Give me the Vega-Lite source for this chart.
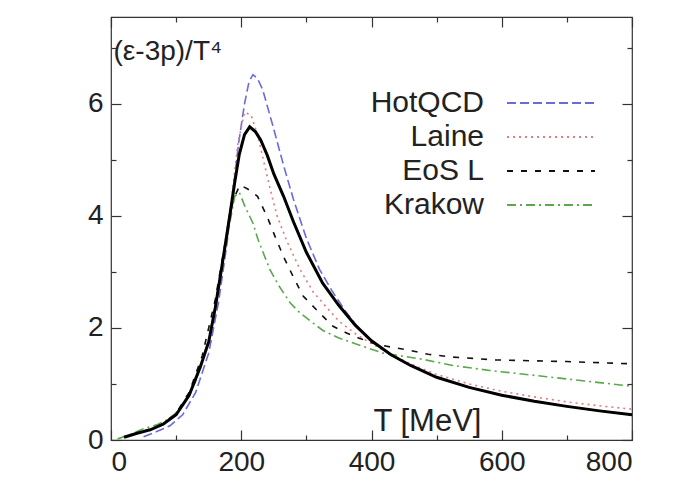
{
  "$schema": "https://vega.github.io/schema/vega-lite/v6.json",
  "width": 521,
  "height": 423,
  "autosize": {"type": "none"},
  "padding": {"left": 111, "top": 17, "right": 58, "bottom": 48},
  "background": "white",
  "config": {
    "view": {"stroke": "#333333", "strokeWidth": 1.2},
    "font": "Liberation Sans",
    "axis": {"grid": false, "domain": false, "tickColor": "#333333", "tickWidth": 1.2, "labelFont": "Liberation Sans", "labelColor": "#222222", "titleFont": "Liberation Sans", "titleColor": "#222222", "titleFontWeight": "normal"},
    "legend": {"orient": "none", "legendX": 381, "legendY": 71, "symbolType": "M-4,0H4", "symbolSize": 484, "symbolOffset": 44, "symbolStrokeWidth": 2, "labelAlign": "right", "labelOffset": -82, "labelFontSize": 30, "labelFont": "Liberation Sans", "labelColor": "#222222", "rowPadding": 4, "padding": 0}
  },
  "datasets": {
    "main": [
      {"T": 20, "v": 0.05}, {"T": 40, "v": 0.12}, {"T": 60, "v": 0.18}, {"T": 80, "v": 0.28},
      {"T": 100, "v": 0.45}, {"T": 120, "v": 0.8}, {"T": 137, "v": 1.3}, {"T": 150, "v": 1.75},
      {"T": 160, "v": 2.35}, {"T": 167, "v": 2.86}, {"T": 175, "v": 3.45}, {"T": 183, "v": 4.05},
      {"T": 190, "v": 4.6}, {"T": 197, "v": 5.1}, {"T": 205, "v": 5.45}, {"T": 213, "v": 5.59},
      {"T": 222, "v": 5.5}, {"T": 230, "v": 5.35}, {"T": 240, "v": 5.08}, {"T": 250, "v": 4.75},
      {"T": 265, "v": 4.35}, {"T": 280, "v": 3.9}, {"T": 300, "v": 3.35}, {"T": 325, "v": 2.8},
      {"T": 350, "v": 2.4}, {"T": 375, "v": 2.05}, {"T": 400, "v": 1.77}, {"T": 430, "v": 1.52},
      {"T": 460, "v": 1.33}, {"T": 500, "v": 1.12}, {"T": 550, "v": 0.94}, {"T": 600, "v": 0.8},
      {"T": 650, "v": 0.69}, {"T": 700, "v": 0.6}, {"T": 750, "v": 0.52}, {"T": 800, "v": 0.45}
    ],
    "models": [
      {"series": "HotQCD", "T": 50, "v": 0.06}, {"series": "HotQCD", "T": 70, "v": 0.15},
      {"series": "HotQCD", "T": 90, "v": 0.25}, {"series": "HotQCD", "T": 110, "v": 0.45},
      {"series": "HotQCD", "T": 130, "v": 0.85}, {"series": "HotQCD", "T": 150, "v": 1.55},
      {"series": "HotQCD", "T": 165, "v": 2.45}, {"series": "HotQCD", "T": 178, "v": 3.5},
      {"series": "HotQCD", "T": 188, "v": 4.5}, {"series": "HotQCD", "T": 196, "v": 5.3},
      {"series": "HotQCD", "T": 205, "v": 6.0}, {"series": "HotQCD", "T": 212, "v": 6.4},
      {"series": "HotQCD", "T": 218, "v": 6.52}, {"series": "HotQCD", "T": 225, "v": 6.45},
      {"series": "HotQCD", "T": 233, "v": 6.25}, {"series": "HotQCD", "T": 249, "v": 5.59},
      {"series": "HotQCD", "T": 265, "v": 4.9}, {"series": "HotQCD", "T": 280, "v": 4.3},
      {"series": "HotQCD", "T": 300, "v": 3.6}, {"series": "HotQCD", "T": 320, "v": 3.05},
      {"series": "HotQCD", "T": 340, "v": 2.65}, {"series": "HotQCD", "T": 360, "v": 2.3},
      {"series": "HotQCD", "T": 380, "v": 2.0}, {"series": "HotQCD", "T": 400, "v": 1.77},
      {"series": "HotQCD", "T": 430, "v": 1.52}, {"series": "HotQCD", "T": 460, "v": 1.33},
      {"series": "HotQCD", "T": 500, "v": 1.12}, {"series": "HotQCD", "T": 550, "v": 0.94},
      {"series": "HotQCD", "T": 600, "v": 0.8}, {"series": "HotQCD", "T": 650, "v": 0.69},
      {"series": "HotQCD", "T": 700, "v": 0.6}, {"series": "HotQCD", "T": 750, "v": 0.52},
      {"series": "HotQCD", "T": 800, "v": 0.45},
      {"series": "Laine", "T": 160, "v": 2.4}, {"series": "Laine", "T": 175, "v": 3.5},
      {"series": "Laine", "T": 185, "v": 4.3}, {"series": "Laine", "T": 195, "v": 5.3},
      {"series": "Laine", "T": 205, "v": 5.85}, {"series": "Laine", "T": 215, "v": 5.8},
      {"series": "Laine", "T": 225, "v": 5.45}, {"series": "Laine", "T": 235, "v": 4.95},
      {"series": "Laine", "T": 245, "v": 4.45}, {"series": "Laine", "T": 255, "v": 4.0},
      {"series": "Laine", "T": 270, "v": 3.55}, {"series": "Laine", "T": 290, "v": 3.05},
      {"series": "Laine", "T": 310, "v": 2.65}, {"series": "Laine", "T": 330, "v": 2.38},
      {"series": "Laine", "T": 350, "v": 2.12}, {"series": "Laine", "T": 375, "v": 1.9},
      {"series": "Laine", "T": 400, "v": 1.72}, {"series": "Laine", "T": 430, "v": 1.53},
      {"series": "Laine", "T": 460, "v": 1.36}, {"series": "Laine", "T": 500, "v": 1.17},
      {"series": "Laine", "T": 550, "v": 1.0}, {"series": "Laine", "T": 600, "v": 0.87},
      {"series": "Laine", "T": 650, "v": 0.77}, {"series": "Laine", "T": 700, "v": 0.68},
      {"series": "Laine", "T": 750, "v": 0.61}, {"series": "Laine", "T": 800, "v": 0.55},
      {"series": "EoS L", "T": 30, "v": 0.08}, {"series": "EoS L", "T": 60, "v": 0.2},
      {"series": "EoS L", "T": 80, "v": 0.3}, {"series": "EoS L", "T": 100, "v": 0.48},
      {"series": "EoS L", "T": 120, "v": 0.85}, {"series": "EoS L", "T": 140, "v": 1.5},
      {"series": "EoS L", "T": 160, "v": 2.5}, {"series": "EoS L", "T": 175, "v": 3.5},
      {"series": "EoS L", "T": 188, "v": 4.3}, {"series": "EoS L", "T": 198, "v": 4.55},
      {"series": "EoS L", "T": 210, "v": 4.48}, {"series": "EoS L", "T": 225, "v": 4.35},
      {"series": "EoS L", "T": 240, "v": 3.98}, {"series": "EoS L", "T": 252, "v": 3.63},
      {"series": "EoS L", "T": 265, "v": 3.27}, {"series": "EoS L", "T": 280, "v": 2.91},
      {"series": "EoS L", "T": 295, "v": 2.57}, {"series": "EoS L", "T": 320, "v": 2.27},
      {"series": "EoS L", "T": 341, "v": 2.03}, {"series": "EoS L", "T": 360, "v": 1.92},
      {"series": "EoS L", "T": 380, "v": 1.82}, {"series": "EoS L", "T": 410, "v": 1.7},
      {"series": "EoS L", "T": 454, "v": 1.61}, {"series": "EoS L", "T": 487, "v": 1.53},
      {"series": "EoS L", "T": 525, "v": 1.48}, {"series": "EoS L", "T": 590, "v": 1.43},
      {"series": "EoS L", "T": 700, "v": 1.4}, {"series": "EoS L", "T": 800, "v": 1.36},
      {"series": "Krakow", "T": 10, "v": 0.02}, {"series": "Krakow", "T": 30, "v": 0.1},
      {"series": "Krakow", "T": 50, "v": 0.2}, {"series": "Krakow", "T": 70, "v": 0.27},
      {"series": "Krakow", "T": 90, "v": 0.38}, {"series": "Krakow", "T": 110, "v": 0.6},
      {"series": "Krakow", "T": 130, "v": 1.05}, {"series": "Krakow", "T": 150, "v": 1.8},
      {"series": "Krakow", "T": 165, "v": 2.7}, {"series": "Krakow", "T": 178, "v": 3.6},
      {"series": "Krakow", "T": 190, "v": 4.35}, {"series": "Krakow", "T": 197, "v": 4.42},
      {"series": "Krakow", "T": 206, "v": 4.16}, {"series": "Krakow", "T": 218, "v": 3.87},
      {"series": "Krakow", "T": 226, "v": 3.57}, {"series": "Krakow", "T": 244, "v": 3.04},
      {"series": "Krakow", "T": 259, "v": 2.73}, {"series": "Krakow", "T": 275, "v": 2.45},
      {"series": "Krakow", "T": 290, "v": 2.27}, {"series": "Krakow", "T": 310, "v": 2.09},
      {"series": "Krakow", "T": 326, "v": 1.95}, {"series": "Krakow", "T": 350, "v": 1.82},
      {"series": "Krakow", "T": 372, "v": 1.73}, {"series": "Krakow", "T": 418, "v": 1.55},
      {"series": "Krakow", "T": 479, "v": 1.44}, {"series": "Krakow", "T": 525, "v": 1.33},
      {"series": "Krakow", "T": 582, "v": 1.24}, {"series": "Krakow", "T": 669, "v": 1.13},
      {"series": "Krakow", "T": 730, "v": 1.05}, {"series": "Krakow", "T": 800, "v": 0.96}
    ]
  },
  "layer": [
    {
      "data": {"name": "models"},
      "mark": {"type": "line", "strokeWidth": 1.6},
      "encoding": {
        "x": {"field": "T", "type": "quantitative", "scale": {"domain": [0, 800], "nice": false},
          "axis": {"orient": "top", "values": [0, 100, 200, 300, 400, 500, 600, 700, 800], "labels": false, "title": null,
            "tickSize": {"condition": {"test": "datum.value % 200 === 0", "value": -10}, "value": -5}}},
        "y": {"field": "v", "type": "quantitative", "scale": {"domain": [0, 7.55], "nice": false, "zero": false},
          "axis": {"orient": "right", "values": [0, 1, 2, 3, 4, 5, 6, 7], "labels": false, "title": null,
            "tickSize": {"condition": {"test": "datum.value % 2 === 0", "value": -10}, "value": -5}}},
        "color": {"field": "series", "type": "nominal",
          "scale": {"domain": ["HotQCD", "Laine", "EoS L", "Krakow"], "range": ["#6a6ae0", "#e47a7a", "#111111", "#5aa84a"]},
          "legend": {"title": null}},
        "strokeDash": {"field": "series", "type": "nominal",
          "scale": {"domain": ["HotQCD", "Laine", "EoS L", "Krakow"], "range": [[9, 4], [2, 4], [6, 8], [9, 4, 2, 4]]},
          "legend": {"title": null}}
      }
    },
    {
      "data": {"name": "main"},
      "mark": {"type": "line", "strokeWidth": 3, "color": "black"},
      "encoding": {
        "x": {"field": "T", "type": "quantitative",
          "axis": {"orient": "bottom", "values": [0, 100, 200, 300, 400, 500, 600, 700, 800],
            "labelExpr": "datum.value % 200 === 0 ? datum.label : ''", "labelFontSize": 28, "labelPadding": 18,
            "tickSize": {"condition": {"test": "datum.value % 200 === 0", "value": -10}, "value": -5},
            "title": "T [MeV]", "titleFontSize": 31, "titleX": 262, "titleY": -10, "titleAlign": "left", "titleBaseline": "alphabetic", "titleAnchor": null}},
        "y": {"field": "v", "type": "quantitative",
          "axis": {"orient": "left", "values": [0, 1, 2, 3, 4, 5, 6, 7],
            "labelExpr": "datum.value % 2 === 0 ? datum.label : ''", "labelFontSize": 28, "labelPadding": 18,
            "tickSize": {"condition": {"test": "datum.value % 2 === 0", "value": -10}, "value": -5},
            "title": "(ε-3p)/T⁴", "titleFontSize": 28, "titleAngle": 0, "titleX": 2, "titleY": 42, "titleAlign": "left", "titleBaseline": "alphabetic"}}
      }
    }
  ],
  "resolve": {"axis": {"x": "independent", "y": "independent"}}
}
